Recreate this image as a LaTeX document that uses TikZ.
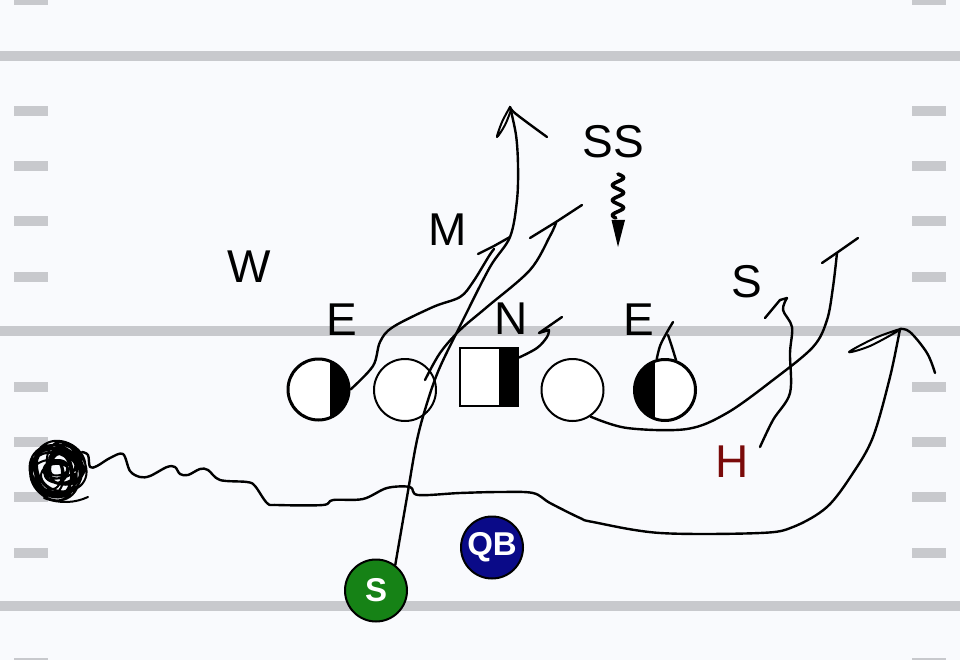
\documentclass[tikz,border=0pt]{standalone}
\usepackage{fontspec}
\setmainfont{Liberation Sans}
\usetikzlibrary{calc}
\definecolor{bgc}{RGB}{249,250,253}
\definecolor{yard}{RGB}{200,201,205}
\definecolor{navyqb}{RGB}{10,10,136}
\definecolor{greens}{RGB}{22,130,22}
\definecolor{hred}{RGB}{122,10,10}
\begin{document}
\begin{tikzpicture}[x=1pt,y=-1pt,
  lbl/.style={inner sep=0pt,font=\fontsize{46}{46}\selectfont},
  player/.style={circle,draw=black,line width=2pt,fill=white,minimum size=62pt,inner sep=0pt},
  token/.style={circle,draw=black,line width=2pt,minimum size=62pt,inner sep=0pt,text=white,font=\bfseries\fontsize{33}{33}\selectfont},
  route/.style={draw=black,line width=2.4pt,line cap=round,line join=round},
  hash/.style={fill=yard}]
\useasboundingbox (0,0) rectangle (960,660);
\fill[bgc] (0,0) rectangle (960,660);
% yard lines
\foreach \yy in {56,331,606} \fill[yard] (0,\yy-4.8) rectangle (960,\yy+4.8);
% hash marks
\foreach \k in {0,2,3,4,5,7,8,9,10,12}{
  \fill[hash] (14,{55.2*\k+0.5-5}) rectangle (48,{55.2*\k+0.5+5});
  \fill[hash] (912,{55.2*\k+0.5-5}) rectangle (946,{55.2*\k+0.5+5});
}
% labels
\node[lbl] (lW) at (249,267) {W};
\node[lbl] (lM) at (448,230) {M};
\node[lbl] (lE1) at (342,320) {E};
\node[lbl] (lN) at (511,319) {N};
\node[lbl] (lE2) at (639,320) {E};
\node[lbl] (lSS) at (613,142) {SS};
\node[lbl] (lS) at (747,282) {S};
\node[lbl,text=hred] (lH) at (732,462) {H};
% players
\node[player] (eL) at (318.5,389.5) {};
\begin{scope}\clip (318.5,389.5) circle[radius=30];
\fill (329.5,350) rectangle (352,430);\end{scope}
\draw[line width=2pt] (318.5,389.5) circle[radius=30];
\node[player] (g1) at (405,390) {};
\node[draw=black,line width=2pt,fill=white,minimum width=58pt,minimum height=58pt,inner sep=0pt] (cN) at (489,377) {};
\fill (498.5,348) rectangle (518,406);
\draw[line width=2pt] (460,348) rectangle (518,406);
\node[player] (g2) at (572.5,390) {};
\node[player] (eR) at (665,390) {};
\begin{scope}\clip (665,390) circle[radius=30];
\fill (630,350) rectangle (655,430);\end{scope}
\draw[line width=2pt] (665,390) circle[radius=30];
\node[token,fill=navyqb] (qb) at (492,547.5) {QB};
\node[token,fill=greens] (sb) at (376,590.5) {S};
% scribble ball
\coordinate (ball) at (57,471);
\draw[line width=2pt,line join=round] plot[domain=0:7200,samples=900,smooth]
  ({57+(17+10*sin(0.37*\x))*cos(\x)+3*sin(0.13*\x)},{470+(18+10*sin(0.37*\x+40))*sin(\x)+3*cos(0.17*\x)});
\draw[line width=2pt,line cap=round] (44,498) .. controls (60,504) and (75,503) .. (88,497);
% long route from ball
\coordinate (bstart) at (82,452);
\draw[route] plot[smooth,tension=0.55] coordinates {(bstart) (88,455) (90,467) (97,466) (110,458) (123,454) (130,471) (140,477) (150,476) (167,467) (175,467) (180,474) (188,475) (200,469) (208,470) (220,480) (247,482) (255,486) (267,503) (277,505) (323,505) (333,500) (363,499) (387,488) (410,487) (418,495) (460,493) (500,492) (533,493) (550,503) (580,518) (593,522) (660,533) (760,533) (793,527) (827,507) (853,473) (873,437) (890,377) (900,329)};
\coordinate (apex1) at (900,329);
\draw[route,line width=2pt] plot[smooth,tension=0.6] coordinates {(apex1) (875,338) (849,352) (870,346) (898,331)};
\draw[route] plot[smooth,tension=0.6] coordinates {(apex1) (910,332) (927,353) (935,373)};
% S route
\draw[route] plot[smooth,tension=0.55] coordinates {(sb.53) (407,497) (417,440) (428,400) (440,367) (463,320) (490,267) (510,237) (517,200) (518,165) (516,135) (510,107)};
\coordinate (apex2) at (510,107);
\draw[route,line width=2pt] plot[smooth,tension=0.6] coordinates {(apex2) (502,122) (497,137) (505,125) (511,110)};
\draw[route] plot[smooth,tension=0.6] coordinates {(apex2) (516,114) (547,137)};
% guard route
\draw[route] plot[smooth,tension=0.55] coordinates {($(g1.center)+(20,-10)$) (440,353) (460,330) (487,307) (530,270) (550,236) (556,223)};
\draw[route] (530,238) -- (556,222) -- (582,205);
% left end route
\draw[route] plot[smooth,tension=0.55] coordinates {(eL.east) (373,366) (380,342) (393,327) (433,307) (460,297) (473,282) (489,256) (494,249)};
\draw[route] (478,254) -- (494,246) -- (510,237);
% nose route
\draw[route] plot[smooth,tension=0.6] coordinates {(cN.33) (537,348) (547,337) (549,330)} -- (539,333) -- (562,317);
% right end
\draw[route] plot[smooth,tension=0.6] coordinates {(eR.105) (660,346) (666,334) (673,322)};
\draw[route] plot[smooth,tension=0.6] coordinates {(eR.70) (672,347) (668,335)};
% tackle route
\draw[route] plot[smooth,tension=0.55] coordinates {(g2.-56) (627,428) (687,429) (727,413) (773,380) (813,347) (827,320) (833,287) (837,253)};
\draw[route] (822,263) -- (838,252) -- (858,238);
% H route
\coordinate (hstart) at (760,447);
\draw[route] plot[smooth,tension=0.55] coordinates {(hstart) (773,420) (790,393) (790,353) (792,327) (783,310) (787,298)} -- (780,300) -- (765,318);
% SS blitz
\draw[line width=3.6pt,line cap=round] plot[domain=174:218,samples=60,smooth] ({618+5.5*sin((\x-174)*24)},\x);
\fill (611.5,220) -- (625,220) -- (618,247) -- cycle;
\end{tikzpicture}
\end{document}
